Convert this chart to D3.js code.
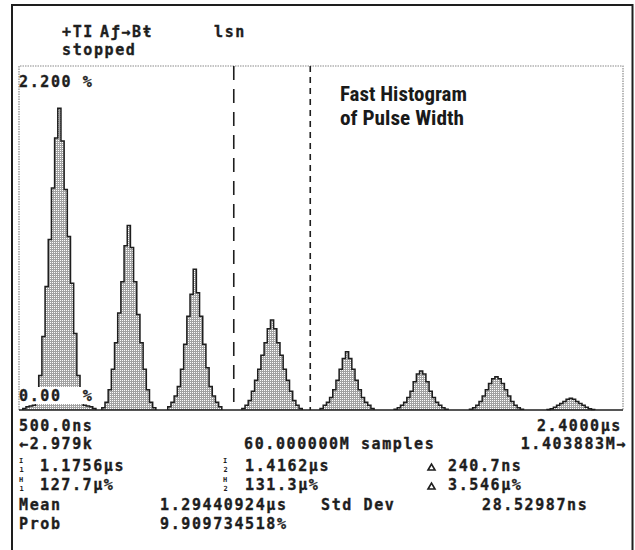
<!DOCTYPE html>
<html>
<head>
<meta charset="utf-8">
<script src="https://cdn.jsdelivr.net/npm/d3@7/dist/d3.min.js"></script>
<style>
  html, body { margin: 0; padding: 0; background: #fff; }
  svg { display: block; }
  .mono { font-family: "DejaVu Sans Mono", "Liberation Mono", monospace; font-weight: bold;
          font-size: 15px; letter-spacing: 1.6px; fill: #1e1e1e; stroke: #1e1e1e; stroke-width: 0.35px;
          white-space: pre; }
  .sub { font-family: "DejaVu Sans Mono", monospace; font-weight: bold; font-size: 7px; fill: #1e1e1e; }
  .note { font-family: "Liberation Sans Narrow", "Roboto Condensed", "Arial Narrow", sans-serif;
          font-weight: bold; font-size: 21px; fill: #1a1a1a; }
</style>
</head>
<body>
<svg id="chart" width="635" height="550"></svg>
<script>
// ---- histogram data (percent of samples per 10 ns bin) ----
const binWidth = 0.01;                         // µs
const xDomain = [0.5, 2.4];                    // µs, screen span 500.0ns .. 2.4000µs
const yDomain = [0, 2.2];                      // percent
const peakCenters = [0.627, 0.8455, 1.053, 1.296, 1.532, 1.765, 2.002, 2.236];
const peak1 = [0.01, 0.02, 0.025, 0.03, 0.08, 0.22, 0.47, 0.79, 1.09, 1.42, 1.74, 1.93, 1.72, 1.41, 1.11, 0.81, 0.49, 0.22, 0.08, 0.03, 0.025, 0.02, 0.01];
const peak2 = [0.015, 0.05, 0.13, 0.26, 0.43, 0.62, 0.82, 1.05, 1.18, 1.04, 0.82, 0.61, 0.43, 0.26, 0.13, 0.05, 0.015];
const peak3 = [0.02, 0.05, 0.09, 0.15, 0.26, 0.42, 0.60, 0.74, 0.90, 0.75, 0.60, 0.42, 0.27, 0.15, 0.09, 0.05, 0.02];
const peak4 = [0.01, 0.03, 0.06, 0.12, 0.19, 0.26, 0.35, 0.43, 0.52, 0.576, 0.52, 0.43, 0.35, 0.26, 0.19, 0.12, 0.06, 0.03, 0.01];
const peak5 = [0.01, 0.03, 0.05, 0.08, 0.13, 0.19, 0.26, 0.33, 0.373, 0.33, 0.26, 0.19, 0.13, 0.08, 0.05, 0.03, 0.01];
const peak6 = [0.005, 0.015, 0.03, 0.05, 0.08, 0.12, 0.18, 0.23, 0.25, 0.23, 0.18, 0.12, 0.08, 0.05, 0.03, 0.015, 0.005];
const peak7 = [0.005, 0.015, 0.03, 0.055, 0.09, 0.13, 0.17, 0.20, 0.213, 0.20, 0.17, 0.13, 0.09, 0.055, 0.03, 0.015, 0.005];
const peak8 = [0.003, 0.008, 0.018, 0.03, 0.042, 0.055, 0.068, 0.075, 0.068, 0.055, 0.042, 0.03, 0.018, 0.008, 0.003];
const peakProfiles = [peak1, peak2, peak3, peak4, peak5, peak6, peak7, peak8];

// ---- cursors and readouts ----
const cursorTimes = [1.1756, 1.4162];          // µs
const cursorDash = ["14,9", "6,5"];
const headerTexts = ["+TI", "Aƒ→Bŧ", "lsn", "stopped"];
const yLabels = ["2.200 %", "0.00  %"];
const xLabels = ["500.0ns", "2.4000µs"];
const countLabels = ["←2.979k", "60.000000M samples", "1.403883M→"];
const cursorTimeLabels = ["1.1756µs", "1.4162µs", "240.7ns"];
const cursorHitLabels = ["127.7µ%", "131.3µ%", "3.546µ%"];
const statNames = ["Mean", "Std Dev", "Prob"];
const statValues = ["1.29440924µs", "28.52987ns", "9.909734518%"];
const noteLines = ["Fast Histogram", "of Pulse Width"];

const svg = d3.select("#chart");
const ink = "#1e1e1e";

// screen grid area
const plot = { left: 19, right: 623, top: 66, bottom: 410 };
const x = d3.scaleLinear().domain(xDomain).range([plot.left, plot.right]);
const y = d3.scaleLinear().domain(yDomain).range([plot.bottom, plot.top]);

// fill pattern used by the histogram
const defs = svg.append("defs");
const pat = defs.append("pattern").attr("id", "dots")
  .attr("patternUnits", "userSpaceOnUse").attr("width", 2).attr("height", 2);
pat.append("rect").attr("width", 2).attr("height", 2).attr("fill", "#fff");
pat.append("rect").attr("x", 0).attr("y", 1).attr("width", 2).attr("height", 1).attr("fill", "#a2a2a2");
pat.append("rect").attr("x", 1).attr("y", 0).attr("width", 1).attr("height", 1).attr("fill", "#a2a2a2");

// outer instrument frame
svg.append("rect").attr("x", 12).attr("y", 5).attr("width", 620.5).attr("height", 560)
  .attr("fill", "none").attr("stroke", ink).attr("stroke-width", 2);

// dotted graticule border
svg.append("path")
  .attr("d", `M${plot.left},${plot.bottom} V${plot.top} H${plot.right} V${plot.bottom}`)
  .attr("fill", "none").attr("stroke", "#8a8a8a").attr("stroke-width", 1.2)
  .attr("stroke-dasharray", "1.5,1");

// histogram peaks as stepped areas
const line = d3.line().x(d => x(d[0])).y(d => y(d[1]));
peakProfiles.forEach((prof, p) => {
  const mid = (prof.length - 1) / 2;
  const pts = [];
  prof.forEach((v, i) => {
    const c = peakCenters[p] + (i - mid) * binWidth;
    const x0 = c - binWidth / 2, x1 = c + binWidth / 2;
    if (i === 0) pts.push([x0, 0]);
    pts.push([x0, v], [x1, v]);
    if (i === prof.length - 1) pts.push([x1, 0]);
  });
  svg.append("path").attr("d", line(pts) + "Z").attr("fill", "url(#dots)").attr("stroke", "none");
  svg.append("path").attr("d", line(pts)).attr("fill", "none")
    .attr("stroke", ink).attr("stroke-width", 1.5).attr("stroke-linejoin", "miter");
});

// zero line across the screen
svg.append("path").attr("d", line([[xDomain[0], 0], [xDomain[1], 0]]))
  .attr("stroke", ink).attr("stroke-width", 1.5);

// time cursors
cursorTimes.forEach((t, i) => {
  svg.append("line").attr("x1", x(t)).attr("x2", x(t))
    .attr("y1", plot.top).attr("y2", plot.bottom)
    .attr("stroke", ink).attr("stroke-width", 1.6).attr("stroke-dasharray", cursorDash[i]);
});

// scale labels with opaque backing
function label(txt, xx, yy, anchor) {
  return svg.append("text").attr("class", "mono").attr("x", xx).attr("y", yy)
    .attr("text-anchor", anchor || "start").text(txt);
}
svg.append("rect").attr("x", plot.left + 1).attr("y", 74).attr("width", 74).attr("height", 16).attr("fill", "#fff");
svg.append("rect").attr("x", plot.left + 1).attr("y", 387).attr("width", 74).attr("height", 17).attr("fill", "#fff");
label(yLabels[0], 19, 87);
label(yLabels[1], 19, 401);

// header
label(headerTexts[0], 62, 37);
label(headerTexts[1], 100, 37);
label(headerTexts[2], 214, 37);
label(headerTexts[3], 62, 55);

// annotation
noteLines.forEach((t, i) => {
  svg.append("text").attr("class", "note").attr("x", 340).attr("y", 101 + i * 24)
    .attr("textLength", i === 0 ? 127 : 124).attr("lengthAdjust", "spacingAndGlyphs").text(t);
});

// readouts below the screen
label(xLabels[0], 19, 431);
label(xLabels[1], 622, 431, "end");
label(countLabels[0], 19, 449);
label(countLabels[1], 244, 449);
label(countLabels[2], 627, 449, "end");

// cursor symbol with its index stacked underneath
function stacked(letter, idx, xx, yy) {
  svg.append("text").attr("class", "sub").attr("x", xx).attr("y", yy - 8).text(letter);
  svg.append("text").attr("class", "sub").attr("x", xx + 0.5).attr("y", yy + 1).text(idx);
}
function delta(xx, yy) {
  svg.append("path").attr("d", `M${xx},${yy} l3.5,-6 l3.5,6 Z`)
    .attr("fill", "none").attr("stroke", ink).attr("stroke-width", 1.6);
}
stacked("I", "1", 19, 471);
label(cursorTimeLabels[0], 40, 471);
stacked("I", "2", 223, 471);
label(cursorTimeLabels[1], 245, 471);
delta(428, 470);
label(cursorTimeLabels[2], 448, 471);

stacked("H", "1", 19, 490);
label(cursorHitLabels[0], 40, 490);
stacked("H", "2", 223, 490);
label(cursorHitLabels[1], 245, 490);
delta(428, 489);
label(cursorHitLabels[2], 448, 490);

label(statNames[0], 19, 510);
label(statValues[0], 160, 510);
label(statNames[1], 321, 510);
label(statValues[1], 482, 510);
label(statNames[2], 19, 529);
label(statValues[2], 160, 529);
</script>
</body>
</html>
